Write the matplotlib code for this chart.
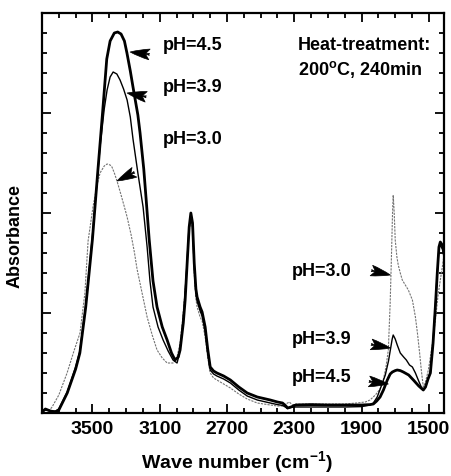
import numpy as np
import matplotlib.pyplot as plt
from matplotlib.ticker import MultipleLocator

plt.rcParams['font.family'] = 'Liberation Sans'
plt.rcParams['font.weight'] = 'bold'
plt.rcParams['mathtext.fontset'] = 'custom'
plt.rcParams['mathtext.rm'] = 'Liberation Sans:bold'
plt.rcParams['mathtext.bf'] = 'Liberation Sans:bold'

# pH = 4.5 (thick line)
wn_45 = [3800, 3780, 3750, 3720, 3700, 3650, 3600, 3575, 3540, 3500, 3470, 3440, 3415,
         3395, 3370, 3350, 3330, 3310, 3295, 3275, 3259, 3230, 3217, 3195, 3181, 3163,
         3140, 3116, 3085, 3056, 3030, 3009, 2990, 2979, 2960, 2949, 2935, 2925, 2915,
         2905, 2895, 2885, 2878, 2860, 2848, 2830, 2815, 2800, 2780, 2760, 2720, 2680,
         2630, 2580, 2520, 2443, 2400, 2370, 2350, 2340, 2320, 2290, 2200, 2100, 2000,
         1900, 1850, 1830, 1810, 1790, 1770, 1747, 1730, 1717, 1700, 1688, 1670, 1652,
         1620, 1592, 1560, 1540, 1533, 1520, 1505, 1491, 1475, 1460, 1450, 1440, 1432,
         1420, 1410]
ab_45 = [0.05, 0.2, 0.1, 0.05, 0.15, 1.0, 2.2, 3.0, 5.3, 8.7, 11.9, 15.0, 17.7,
         18.6, 19.0, 19.05, 18.95, 18.6, 18.0, 17.1, 16.3, 14.9, 14.0, 12.2, 10.7, 8.7,
         6.6, 5.3, 4.3, 3.65, 3.0, 2.65, 2.8, 3.15, 4.5, 5.65, 7.8, 9.3, 10.0,
         9.5, 7.5, 6.2, 5.8, 5.3, 5.05, 4.3, 3.2, 2.3, 2.1, 2.0, 1.85, 1.65,
         1.3, 1.0, 0.8, 0.65, 0.55, 0.5, 0.35, 0.25, 0.3, 0.4, 0.42, 0.4, 0.4,
         0.4, 0.42, 0.45, 0.6, 0.8, 1.15, 1.65, 1.95, 2.05, 2.12, 2.15, 2.12, 2.05,
         1.9, 1.65, 1.35, 1.2, 1.15, 1.3, 1.7, 2.0, 3.5, 5.5, 7.0, 8.3, 8.55,
         8.4, 8.05]

# pH = 3.9 (thin solid line)
wn_39 = [3800, 3780, 3750, 3720, 3700, 3650, 3600, 3575, 3540, 3500, 3470, 3455, 3430,
         3413, 3395, 3377, 3355, 3336, 3315, 3294, 3275, 3259, 3230, 3199, 3175, 3158,
         3140, 3110, 3080, 3050, 3021, 2997, 2985, 2970, 2955, 2940, 2928, 2915, 2905,
         2895, 2885, 2878, 2860, 2848, 2830, 2815, 2800, 2780, 2760, 2720, 2680, 2630,
         2580, 2520, 2443, 2400, 2370, 2350, 2340, 2320, 2290, 2200, 2100, 2000, 1900,
         1850, 1830, 1807, 1785, 1759, 1740, 1729, 1718, 1712, 1700, 1688, 1670, 1650,
         1634, 1615, 1598, 1580, 1563, 1545, 1533, 1520, 1505, 1491, 1475, 1460, 1450,
         1440, 1432, 1420, 1410]
ab_39 = [0.05, 0.15, 0.1, 0.1, 0.2, 1.05, 2.3, 3.1, 5.4, 8.9, 11.8, 13.3, 15.2,
         16.15, 16.8, 17.05, 16.95, 16.65, 16.2, 15.65, 14.8, 13.7, 12.0, 10.3, 8.3, 6.6,
         5.3, 4.3, 3.65, 3.1, 2.65, 2.5, 2.9, 3.9, 5.3, 7.2, 9.0, 9.95, 9.4,
         7.3, 6.0, 5.6, 5.1, 4.85, 4.1, 3.0, 2.15, 1.95, 1.85, 1.7, 1.5, 1.15,
         0.85, 0.65, 0.5, 0.42, 0.38, 0.28, 0.22, 0.28, 0.3, 0.3, 0.3, 0.3, 0.32,
         0.4, 0.5, 0.8, 1.3, 1.9, 2.6, 3.15, 3.7, 3.9, 3.7, 3.4, 3.0, 2.8,
         2.65, 2.4, 2.3, 2.0, 1.65, 1.3, 1.15, 1.3, 1.7, 2.05, 3.6, 5.6, 7.0,
         8.2, 8.4, 8.2, 7.8]

# pH = 3.0 (dotted grey line)
wn_30 = [3800, 3780, 3760, 3740, 3700, 3651, 3610, 3574, 3545, 3526, 3497, 3475, 3455,
         3430, 3413, 3395, 3384, 3370, 3354, 3330, 3310, 3294, 3270, 3250, 3235, 3205,
         3175, 3145, 3116, 3085, 3056, 3021, 3000, 2979, 2965, 2949, 2935, 2925, 2915,
         2905, 2895, 2885, 2878, 2860, 2848, 2830, 2815, 2800, 2780, 2760, 2720, 2680,
         2630, 2580, 2520, 2443, 2400, 2370, 2350, 2330, 2310, 2290, 2200, 2100, 2000,
         1930, 1878, 1850, 1818, 1790, 1771, 1755, 1741, 1730, 1723, 1716, 1712, 1706,
         1700, 1690, 1682, 1670, 1658, 1640, 1622, 1598, 1580, 1568, 1555, 1545, 1533,
         1520, 1503, 1480, 1461, 1445, 1432, 1420, 1410]
ab_30 = [0.1, 0.15, 0.1, 0.3, 0.9, 2.0, 3.1, 4.0, 6.0, 8.6, 10.3, 11.3, 12.0,
         12.35, 12.45, 12.4, 12.3, 12.0, 11.6, 10.9, 10.3, 9.8, 8.9, 8.0, 7.2, 6.0,
         4.8, 3.9, 3.15, 2.75, 2.5, 2.5, 2.7, 3.5, 4.6, 6.1, 7.8, 9.1, 9.85,
         9.2, 7.0, 5.7, 5.3, 4.8, 4.6, 3.8, 2.8, 2.0, 1.75, 1.65, 1.45, 1.25,
         0.95, 0.7, 0.5, 0.4, 0.35, 0.35, 0.45, 0.55, 0.4, 0.45, 0.45, 0.45, 0.45,
         0.5, 0.55, 0.65, 0.9, 1.2, 1.65, 2.3, 3.15, 5.5, 7.65, 10.0, 10.9, 10.0,
         8.65, 7.8, 7.4, 7.0, 6.65, 6.4, 6.15, 5.65, 4.8, 4.0, 3.0, 2.15, 1.3,
         1.55, 2.15, 3.4, 4.65, 5.9, 6.65, 7.3, 7.9]

xticks = [3500, 3100, 2700, 2300, 1900, 1500]

fig = plt.figure(figsize=(4.52, 4.76), dpi=100)
ax = fig.add_axes([42/452, 63/476, 402/452, 400/476])

ax.plot(wn_30, ab_30, color='0.45', lw=0.8, ls=(0, (2, 1)))
ax.plot(wn_39, ab_39, color='k', lw=1.0)
ax.plot(wn_45, ab_45, color='k', lw=2.0)

ax.set_xlim(3800, 1410)
ax.set_ylim(0, 20)
ax.set_xticks(xticks)
ax.xaxis.set_minor_locator(MultipleLocator(100))
ax.yaxis.set_major_locator(MultipleLocator(5))
ax.yaxis.set_minor_locator(MultipleLocator(1))
ax.set_yticklabels([])
ax.tick_params(which='both', direction='in', top=True, right=True, width=1.3)
ax.tick_params(which='major', length=6.5, labelsize=14, pad=6)
ax.tick_params(which='minor', length=3.5)
for lab in ax.get_xticklabels():
    lab.set_fontweight('bold')
for s in ax.spines.values():
    s.set_linewidth(1.6)

fs = 13
ax.text(3080, 18.4, 'pH=4.5', fontsize=fs, va='center')
ax.text(3080, 16.3, 'pH=3.9', fontsize=fs, va='center')
ax.text(3080, 13.65, 'pH=3.0', fontsize=fs, va='center')
ax.text(2277, 18.4, 'Heat-treatment:', fontsize=fs, va='center')
ax.text(2277, 17.15, '200$^{\\rm o}$C, 240min', fontsize=fs, va='center')
ax.text(2312, 7.05, 'pH=3.0', fontsize=fs, va='center')
ax.text(2312, 3.7, 'pH=3.9', fontsize=fs, va='center')
ax.text(2312, 1.8, 'pH=4.5', fontsize=fs, va='center')

# big arrowheads with almost no shaft
arrow = dict(arrowstyle='fancy,head_length=1.0,head_width=0.55,tail_width=0.1',
             color='k', lw=0.5, shrinkA=0, shrinkB=0, mutation_scale=14)
ax.annotate('', xy=(3276, 18.05), xytext=(16, -2), textcoords='offset pixels', arrowprops=arrow)
ax.annotate('', xy=(3294, 16.0), xytext=(15, -3), textcoords='offset pixels', arrowprops=arrow)
ax.annotate('', xy=(3354, 11.6), xytext=(14, 7), textcoords='offset pixels', arrowprops=arrow)
ax.annotate('', xy=(1729, 6.9), xytext=(-17, 4), textcoords='offset pixels', arrowprops=arrow)
ax.annotate('', xy=(1729, 3.25), xytext=(-16, 3), textcoords='offset pixels', arrowprops=arrow)
ax.annotate('', xy=(1741, 1.45), xytext=(-15, 2), textcoords='offset pixels', arrowprops=arrow)

fig.text(15/452, 1 - 236/476, 'Absorbance', rotation=90, ha='center', va='center',
         fontsize=13, fontweight='bold')
fig.text(237/452, 1 - 463/476, 'Wave number (cm$^{\\mathbf{-1}}$)', ha='center',
         va='center', fontsize=14, fontweight='bold')

fig.savefig('out.png', dpi=100)
